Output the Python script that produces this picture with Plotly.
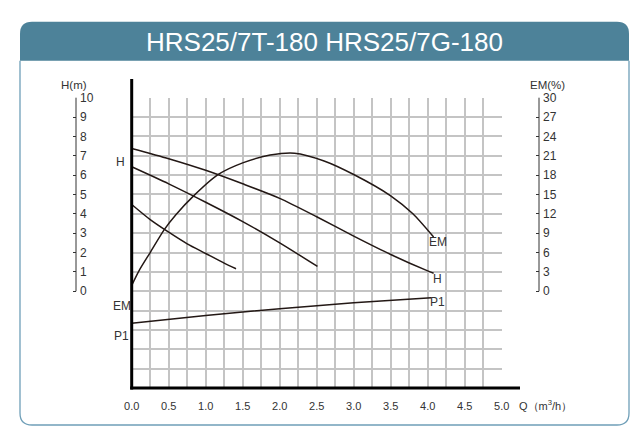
import plotly.graph_objects as go

W, H = 642, 445
OFF = 8  # page body margin in the browser


def fx(px):
    return (px - OFF) / W


def fy(py):
    return (H - (py - OFF)) / H


# ---------------- data ----------------
title_text = "HRS25/7T-180 HRS25/7G-180"
q_ticks = [0.0, 0.5, 1.0, 1.5, 2.0, 2.5, 3.0, 3.5, 4.0, 4.5, 5.0]
h_ticks = [0, 1, 2, 3, 4, 5, 6, 7, 8, 9, 10]
em_ticks = [0, 3, 6, 9, 12, 15, 18, 21, 24, 27, 30]

# Head curves H (m)
h1_q = [0.0, 0.5, 1.0, 1.5, 2.0, 2.5, 3.0, 3.5, 4.0, 4.08]
h1_h = [7.38, 6.85, 6.25, 5.55, 4.8, 3.85, 2.85, 1.9, 1.05, 0.93]
h2_q = [0.0, 0.5, 1.0, 1.5, 2.0, 2.51]
h2_h = [6.43, 5.55, 4.6, 3.6, 2.5, 1.28]
h3_q = [0.0, 0.25, 0.5, 0.75, 1.0, 1.25, 1.41]
h3_h = [4.48, 3.7, 3.05, 2.45, 1.95, 1.45, 1.16]

# Efficiency EM (%)
em_q = [0.0, 0.1, 0.25, 0.44, 0.6, 0.83, 1.17, 1.5, 1.87, 2.2, 2.6, 3.0, 3.5, 3.8, 4.08]
em_v = [0.9, 3.2, 6.0, 9.55, 11.9, 14.7, 18.1, 19.9, 21.1, 21.4, 20.2, 18.1, 14.8, 12.0, 8.4]

# Power P1 (no scale shown; expressed in head-grid units)
p1_q = [0.0, 1.0, 2.0, 3.0, 4.05]
p1_v = [-1.66, -1.26, -0.9, -0.6, -0.34]

# ---------------- styling ----------------
FONT = "Liberation Sans, Arial, sans-serif"
CURVE = "#231815"
GRID = "#C4C4C4"
TXT = "#333333"
BANNER = "#4D8299"
FRAME = "#6F9FB8"

H_MIN, H_MAX = -5, 10
x_dom = [fx(131.7), fx(501.7)]
y_dom = [fy(388), fy(97.7)]

fig = go.Figure()
line = dict(color=CURVE, width=1.5, shape="spline", smoothing=0.7)
for q, h in [(h1_q, h1_h), (h2_q, h2_h), (h3_q, h3_h)]:
    fig.add_trace(go.Scatter(x=q, y=h, mode="lines", line=line, yaxis="y2",
                             hoverinfo="skip", showlegend=False))
fig.add_trace(go.Scatter(x=em_q, y=em_v, mode="lines", line=line, yaxis="y3",
                         hoverinfo="skip", showlegend=False))
fig.add_trace(go.Scatter(x=p1_q, y=p1_v, mode="lines", line=line, yaxis="y",
                         hoverinfo="skip", showlegend=False))

scale_common = dict(overlaying="y", anchor="free", side="right", ticks="inside",
                    ticklen=3, tickcolor=TXT, tickwidth=1, showline=False,
                    ticklabelstandoff=3,
                    tickfont=dict(size=12, color=TXT), showgrid=False,
                    zeroline=False, fixedrange=True, automargin=False)

fig.update_layout(
    template="none",
    width=W, height=H, autosize=False,
    margin=dict(l=0, r=0, t=0, b=0, pad=0, autoexpand=False),
    paper_bgcolor="white", plot_bgcolor="rgba(0,0,0,0)",
    font=dict(family=FONT, color=TXT, size=12),
    showlegend=False,
    xaxis=dict(domain=x_dom, range=[0, 5], anchor="y",
               tickvals=q_ticks, ticktext=[f"{v:.1f}" for v in q_ticks],
               ticks="outside", ticklen=8, tickcolor="rgba(0,0,0,0)",
               tickfont=dict(size=11, color=TXT),
               showgrid=True, gridcolor=GRID, gridwidth=1.8,
               minor=dict(dtick=0.25, showgrid=True, gridcolor=GRID, gridwidth=1.8,
                          ticks=""),
               zeroline=False, showline=False, fixedrange=True, automargin=False),
    yaxis=dict(domain=y_dom, range=[H_MIN, H_MAX], anchor="x", dtick=1,
               showticklabels=False, ticks="",
               showgrid=True, gridcolor=GRID, gridwidth=1.8,
               zeroline=False, showline=False, fixedrange=True, automargin=False),
    yaxis2=dict(range=[H_MIN, H_MAX], position=fx(76), tickvals=h_ticks,
                **scale_common),
    yaxis3=dict(range=[3 * H_MIN, 3 * H_MAX], position=fx(539), tickvals=em_ticks,
                **scale_common),
)

# ---------------- frame & banner ----------------
x0, x1 = fx(20), fx(629)
yt, yb = fy(21.7), fy(60.7)
rx, ry = 12 / W, 12 / H
banner = (f"M {x0},{yb} L {x0},{yt - ry} Q {x0},{yt} {x0 + rx},{yt} "
          f"L {x1 - rx},{yt} Q {x1},{yt} {x1},{yt - ry} L {x1},{yb} Z")
fig.add_shape(type="path", path=banner, xref="paper", yref="paper",
              fillcolor=BANNER, line=dict(width=0), layer="below")
fb = fy(425)
frame = (f"M {x0},{yb} L {x0},{fb + ry} Q {x0},{fb} {x0 + rx},{fb} "
         f"L {x1 - rx},{fb} Q {x1},{fb} {x1},{fb + ry} L {x1},{yb}")
fig.add_shape(type="path", path=frame, xref="paper", yref="paper",
              line=dict(color=FRAME, width=1.3), layer="below")

# scale lines (H 0..10 and EM 0..30 share the same span)
def hpaper(hv):
    return y_dom[0] + (hv - H_MIN) / (H_MAX - H_MIN) * (y_dom[1] - y_dom[0])

for px in (76, 539):
    fig.add_shape(type="line", xref="paper", yref="paper", x0=fx(px), x1=fx(px),
                  y0=hpaper(0), y1=hpaper(10), line=dict(color=TXT, width=1),
                  layer="above")

# main black axes
fig.add_shape(type="line", xref="paper", yref="paper", x0=fx(131.7), x1=fx(131.7),
              y0=fy(389.5), y1=fy(79), line=dict(color="black", width=3), layer="above")
fig.add_shape(type="line", xref="paper", yref="paper", x0=fx(130.2), x1=fx(520),
              y0=fy(388), y1=fy(388), line=dict(color="black", width=3), layer="above")

# ---------------- texts ----------------
def ann(text, x, y, size=12, color=TXT, xanchor="center", **kw):
    fig.add_annotation(text=text, x=x, y=y, xref="paper", yref="paper",
                       showarrow=False, xanchor=xanchor, yanchor="middle",
                       font=dict(size=size, color=color, family=FONT), **kw)

ann(title_text, fx(324), fy(42), size=26, color="white")
ann("H(m)", fx(74), fy(84.5), size=11.5)
ann("EM(%)", fx(547), fy(84.5), size=11.5)
ann("Q（m<sup>3</sup>/h）", fx(517), fy(405), size=11, xanchor="left")

# curve labels
ann("H", fx(120), fy(161.7))
ann("EM", fx(121.5), fy(305.7))
ann("P1", fx(121.5), fy(336))
ann("EM", fx(437.5), fy(241.7))
ann("H", fx(437), fy(279))
ann("P1", fx(437.5), fy(301.7))

fig.write_html("out.html")
